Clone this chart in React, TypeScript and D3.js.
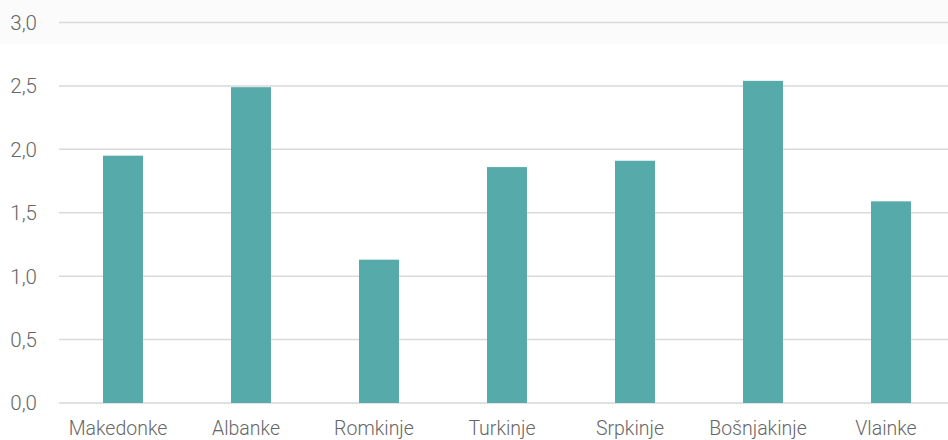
import React from "react";
import * as d3 from "d3";

const categories = ["Makedonke", "Albanke", "Romkinje", "Turkinje", "Srpkinje", "Bošnjakinje", "Vlainke"];
const values = [1.95, 2.49, 1.13, 1.86, 1.91, 2.54, 1.59];
const yTicks = [0, 0.5, 1.0, 1.5, 2.0, 2.5, 3.0];

const W = 948;
const H = 440;

export default function App() {
  const x = d3.scaleBand<string>().domain(categories).range([59, 955]).paddingInner(0.6875).paddingOuter(0.34375);
  const y = d3.scaleLinear().domain([0, 3]).range([403, 22.5]);
  const fmt = (v: number) => v.toFixed(1).replace(".", ",");
  const font = "Roboto, 'Noto Sans', sans-serif";
  return (
    <svg width={W} height={H} style={{ position: "absolute", left: 0, top: 0, background: "#fff" }}>
      <rect x={0} y={0} width={W} height={44} fill="#fbfbfb" />
      {yTicks.map((t) => (
        <g key={t}>
          <line x1={59} x2={W} y1={y(t)} y2={y(t)} stroke="#d9d9d9" strokeWidth={1.5} />
          <text x={37} y={y(t)} dy="0.36em" textAnchor="end" fontFamily={font} fontWeight={300} fontSize={20.5} fill="#666">
            {fmt(t)}
          </text>
        </g>
      ))}
      {categories.map((c, i) => (
        <rect key={c} x={x(c)} y={y(values[i])} width={x.bandwidth()} height={y(0) - y(values[i])} fill="#56aaaa" />
      ))}
      {categories.map((c) => (
        <text key={c} x={(x(c) as number) + x.bandwidth() / 2 - 5} y={435} textAnchor="middle" fontFamily={font} fontWeight={300} fontSize={19.5} fill="#666">
          {c}
        </text>
      ))}
    </svg>
  );
}
